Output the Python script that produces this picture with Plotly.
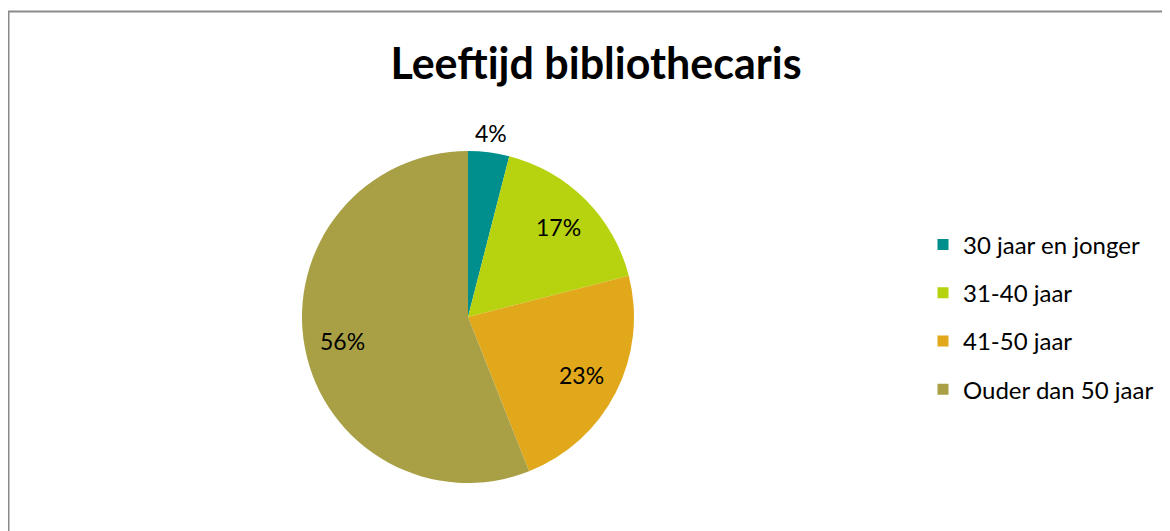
import math
import plotly.graph_objs as go

labels = ["30 jaar en jonger", "31-40 jaar", "41-50 jaar", "Ouder dan 50 jaar"]
values = [4, 17, 23, 56]
colors = ["#008F8C", "#B7D30F", "#E1A81C", "#A9A046"]

FONT = "Lato, 'Open Sans', sans-serif"
W, H = 1170, 531
# pie centre / radius in pixels (page body has an 8px margin)
CX, CY, R = 460, 309, 166
label_r = [1.115, 0.77, 0.77, 0.77]   # label distance as a fraction of the radius

fig = go.Figure()

fig.add_trace(go.Pie(
    labels=labels,
    values=values,
    sort=False,
    direction="clockwise",
    rotation=0,
    marker=dict(colors=colors, line=dict(width=0)),
    textinfo="none",
    domain=dict(x=[(CX - R) / W, (CX + R) / W], y=[(H - CY - R) / H, (H - CY + R) / H]),
    showlegend=False,
    hoverinfo="label+percent",
))

# percentage labels on the slice bisectors
total = sum(values)
cum = 0
annots = []
for v, f in zip(values, label_r):
    mid = (cum + v / 2) / total * 2 * math.pi
    cum += v
    annots.append(dict(
        x=(CX + f * R * math.sin(mid)) / W, y=(H - CY + f * R * math.cos(mid)) / H,
        xref="paper", yref="paper", xanchor="center", yanchor="middle",
        text="%d%%" % round(100 * v / total), showarrow=False,
        font=dict(family=FONT, size=23, color="#000000"),
    ))

# legend entries as dummy markers so the row spacing can be set
for lab, col in zip(labels, colors):
    fig.add_trace(go.Scatter(
        x=[None], y=[None], mode="markers", name=lab, legendgroup=lab,
        marker=dict(symbol="square", size=11, color=col),
    ))

fig.update_layout(
    width=W, height=H,
    margin=dict(l=0, r=0, t=0, b=0),
    paper_bgcolor="white", plot_bgcolor="white",
    title=dict(text="<b>Leeftijd bibliothecaris</b>", x=588 / W, y=1 - 55.5 / H,
               xanchor="center", yanchor="middle",
               font=dict(family=FONT, size=43, color="#000000")),
    xaxis=dict(visible=False), yaxis=dict(visible=False),
    legend=dict(x=915 / W, y=1 - 309 / H, xanchor="left", yanchor="middle",
                font=dict(family=FONT, size=24, color="#000000"),
                tracegroupgap=14, bgcolor="rgba(0,0,0,0)"),
    annotations=annots,
    shapes=[dict(type="rect", xref="paper", yref="paper",
                 x0=0.5 / W, x1=1.02, y0=-0.02, y1=1 - 3.5 / H,
                 line=dict(color="#8A8A8A", width=2))],
)

fig.write_html("out.html")
